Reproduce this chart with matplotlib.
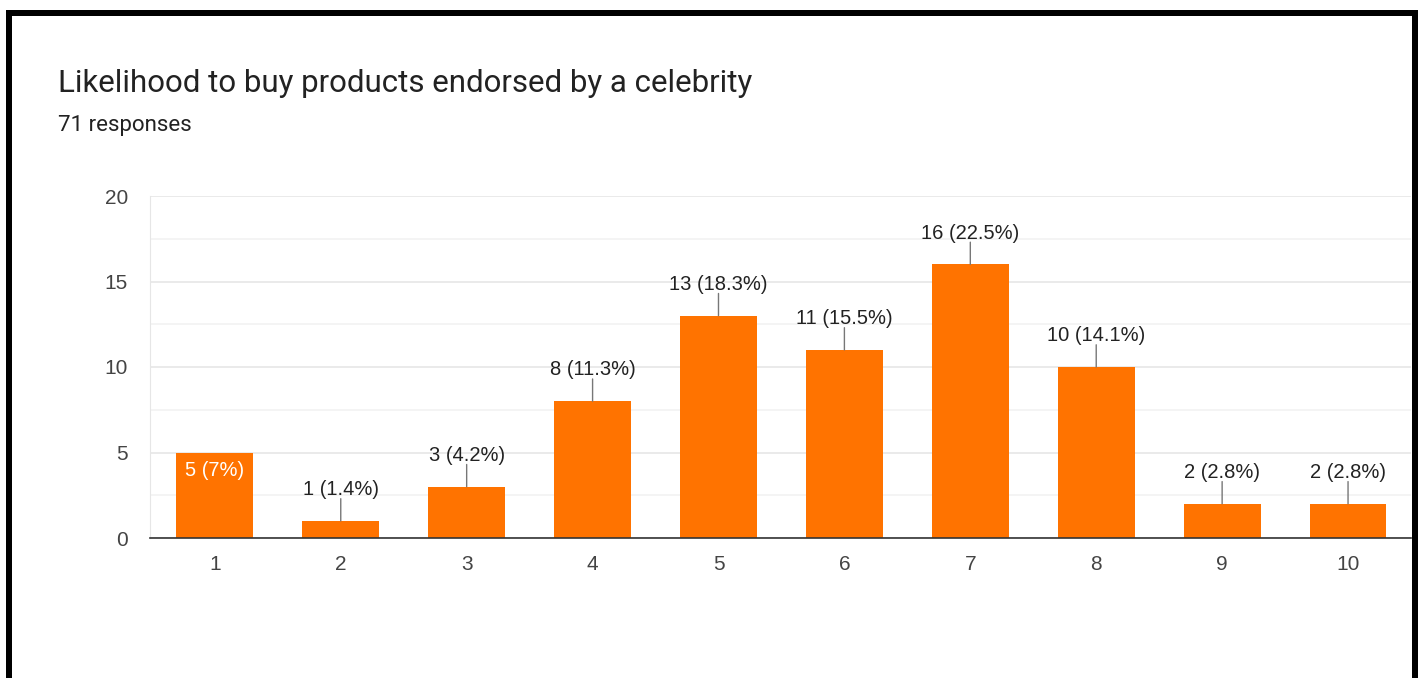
"""Likelihood to buy products endorsed by a celebrity (Google Forms style bar chart)."""
import matplotlib

matplotlib.use("Agg")
import matplotlib.pyplot as plt
from matplotlib.lines import Line2D

plt.rcParams["font.family"] = ["Liberation Sans", "DejaVu Sans"]

# data
scores = [1, 2, 3, 4, 5, 6, 7, 8, 9, 10]
counts = [5, 1, 3, 8, 13, 11, 16, 10, 2, 2]
pct_labels = ["7%", "1.4%", "4.2%", "11.3%", "18.3%", "15.5%", "22.5%", "14.1%", "2.8%", "2.8%"]
yticks = [0, 5, 10, 15, 20]
title = "Likelihood to buy products endorsed by a celebrity"
subtitle = "71 responses"

ORANGE = "#ff7300"
TEXT = "#222222"
TICK = "#444444"

W, H, DPI = 1421, 678, 100
fig = plt.figure(figsize=(W / DPI, H / DPI), dpi=DPI)
ax = fig.add_axes([150 / W, 1 - 538 / H, (1411 - 150) / W, (538 - 196) / H])

ax.bar(scores, counts, width=0.61, color=ORANGE, zorder=3)
ax.set_xlim(0.485, 10.5)
ax.set_ylim(0, 20)
ax.set_xticks(scores)
ax.set_xticklabels([str(s) for s in scores])
ax.set_yticks(yticks)
ax.set_yticks([2.5, 7.5, 12.5, 17.5], minor=True)
ax.tick_params(axis="both", which="both", length=0, labelsize=15, labelcolor=TICK)
ax.tick_params(axis="x", pad=12)
ax.tick_params(axis="y", pad=16)
ax.grid(axis="y", which="major", color="#e6e6e6", lw=1.2, zorder=0)
ax.grid(axis="y", which="minor", color="#f2f2f2", lw=1.2, zorder=0)
for s in ("top", "right"):
    ax.spines[s].set_visible(False)
ax.spines["left"].set_color("#e6e6e6")
ax.spines["bottom"].set_color("#333333")
ax.spines["bottom"].set_linewidth(1.2)
ax.spines["bottom"].set_zorder(4)

for x, v, p in zip(scores, counts, pct_labels):
    label = f"{v} ({p})"
    if x == 1:
        ax.annotate(label, (x, v), xytext=(0, -13), textcoords="offset points",
                    ha="center", va="center", fontsize=14.5, color="white", zorder=5)
        continue
    ax.annotate("", (x, v), xytext=(0, 16), textcoords="offset points",
                arrowprops=dict(arrowstyle="-", color="#777777", lw=1,
                                shrinkA=0, shrinkB=0), zorder=4)
    ax.annotate(label, (x, v), xytext=(0, 22.5), textcoords="offset points",
                ha="center", va="center", fontsize=14.5, color=TEXT, zorder=5)

fig.text(58 / W, 1 - 92 / H, title, fontsize=22.5, color=TEXT, va="baseline",
         ha="left", family=["Roboto", "DejaVu Sans"])
fig.text(58 / W, 1 - 131 / H, subtitle, fontsize=16, color=TEXT, va="baseline",
         ha="left", family=["Roboto", "DejaVu Sans"])

# black frame (top, left, right; bottom is open)
lw = 6 * 72 / DPI
for xs, ys in [((6, 1417), (13, 13)), ((8.5, 8.5), (10, H)), ((1414.5, 1414.5), (10, H))]:
    fig.add_artist(Line2D([x / W for x in xs], [1 - y / H for y in ys],
                          color="black", lw=lw, solid_capstyle="butt"))

fig.savefig("out.png", dpi=DPI)
